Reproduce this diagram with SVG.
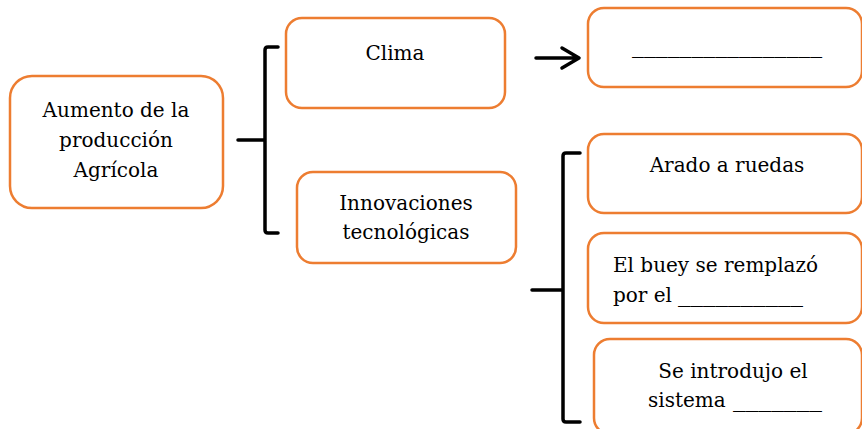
<svg xmlns="http://www.w3.org/2000/svg" width="862" height="429" viewBox="0 0 862 429">
<style>
.box{fill:#fff;stroke:#ED7D31;stroke-width:2.5}
.t{font-family:"DejaVu Serif","Liberation Serif",serif;font-size:20px;fill:#000}
.c{text-anchor:middle}
.ln{fill:none;stroke:#000;stroke-width:3.5;stroke-linecap:round;stroke-linejoin:round}
</style>
<rect width="862" height="429" fill="#fff"/>
<g id="connectors">
<path class="ln" d="M238,140 H265 M278,47 H268 Q265,47 265,50 V230 Q265,233 268,233 H278"/>
<path class="ln" d="M536,58 H578 M562,48 L579,58 L562,68"/>
<path class="ln" d="M532,290 H563 M580,153 H566 Q563,153 563,156 V419 Q563,422 566,422 H580"/>
</g>
<g id="n-aumento">
<rect class="box" x="10" y="76" width="213" height="132" rx="22"/>
<text class="t c" x="116" y="117">Aumento de la</text>
<text class="t c" x="116" y="147">producción</text>
<text class="t c" x="116" y="177">Agrícola</text>
</g>
<g id="n-clima">
<rect class="box" x="286" y="18" width="219" height="90" rx="16"/>
<text class="t c" x="395" y="60">Clima</text>
</g>
<g id="n-innov">
<rect class="box" x="297" y="172" width="219" height="91" rx="16"/>
<text class="t c" x="406" y="210">Innovaciones</text>
<text class="t c" x="406" y="239">tecnológicas</text>
</g>
<g id="n-blank">
<rect class="box" x="588" y="8" width="274" height="79" rx="16"/>
<text class="t" x="632" y="53" textLength="190" lengthAdjust="spacingAndGlyphs">________________</text>
</g>
<g id="n-arado">
<rect class="box" x="588" y="134" width="274" height="79" rx="16"/>
<text class="t c" x="727" y="172">Arado a ruedas</text>
</g>
<g id="n-buey">
<rect class="box" x="588" y="233" width="274" height="90" rx="16"/>
<text class="t" x="613" y="272">El buey se remplazó</text>
<text class="t" x="613" y="302">por el</text>
<text class="t" x="678" y="302" textLength="125" lengthAdjust="spacingAndGlyphs">__________</text>
</g>
<g id="n-sistema">
<rect class="box" x="594" y="339" width="268" height="95" rx="16"/>
<text class="t c" x="733" y="378">Se introdujo el</text>
<text class="t" x="648" y="407">sistema</text>
<text class="t" x="733" y="407" textLength="89" lengthAdjust="spacingAndGlyphs">_______</text>
</g>
</svg>
